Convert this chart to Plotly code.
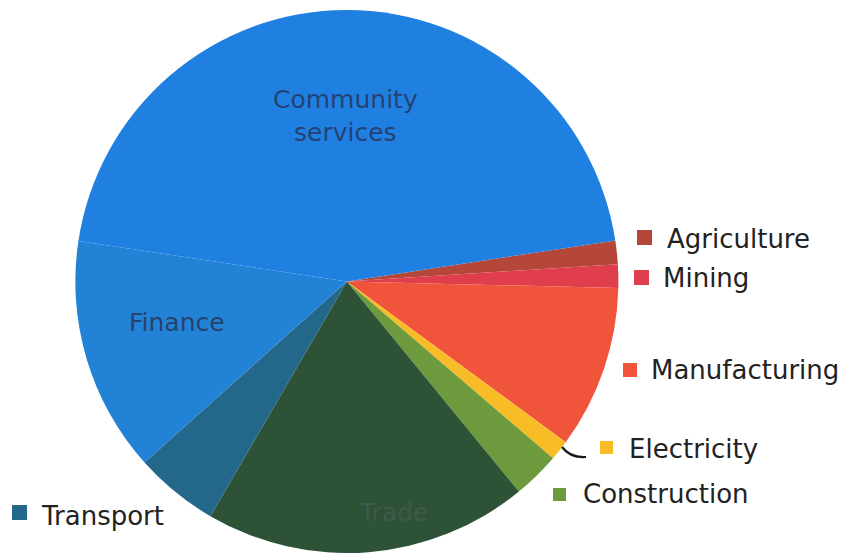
import plotly.graph_objects as go

W, H = 844, 553

# Sector shares (%), listed clockwise starting from Agriculture
sectors = ["Agriculture", "Mining", "Manufacturing", "Electricity", "Construction",
           "Trade", "Transport", "Finance", "Community services"]
shares = [1.4, 1.4, 9.7, 1.2, 2.8, 19.3, 5.0, 14.0, 45.2]
colors = ["#B4473A", "#E03E4C", "#F0553B", "#F8BC26", "#6C9A3C",
          "#2D5236", "#23688A", "#2282D6", "#1F80E2"]

# Sectors labelled inside the pie, and sectors labelled with a key outside it
inner_labels = {"Community services": "Community<br>services", "Finance": "Finance", "Trade": "Trade"}
inner_pos = {"Community services": (345, 116), "Finance": (177, 322), "Trade": (393, 512)}
inner_color = {"Community services": "rgba(38,58,100,0.9)", "Finance": "rgba(38,58,95,0.9)",
               "Trade": "rgba(66,90,75,0.95)"}

outer_keys = {  # square (x0, y0, x1, y1) and text left edge / centre line, in pixels
    "Agriculture": ((637, 230, 652, 245), (665, 239)),
    "Mining": ((634, 270, 649, 285), (661, 278)),
    "Manufacturing": ((623, 363, 637, 377), (649, 370)),
    "Electricity": ((600, 441, 613, 454), (627, 449)),
    "Construction": ((553, 488, 566, 501), (581, 494)),
    "Transport": ((12, 505, 27, 520), (39, 516)),
}


def px(x):
    return x / W


def py(y):
    return 1 - y / H


fig = go.Figure(go.Pie(
    labels=sectors,
    values=shares,
    sort=False,
    direction="clockwise",
    rotation=81.3,
    marker=dict(colors=colors, line=dict(width=0)),
    textinfo="none",
    hoverinfo="label+percent",
    showlegend=False,
    domain=dict(x=[0.087, 0.735], y=[0.0, 0.982]),
))

annotations = []
shapes = []
font_family = "DejaVu Sans, Verdana, sans-serif"

for name, txt in inner_labels.items():
    x, y = inner_pos[name]
    annotations.append(dict(
        x=px(x), y=py(y), xref="paper", yref="paper", text=txt, showarrow=False,
        xanchor="center", yanchor="middle",
        font=dict(family=font_family, size=25, color=inner_color[name]),
    ))

for name, (sq, (tx, ty)) in outer_keys.items():
    col = colors[sectors.index(name)]
    x0, y0, x1, y1 = sq
    shapes.append(dict(type="rect", xref="paper", yref="paper",
                       x0=px(x0), x1=px(x1), y0=py(y1), y1=py(y0),
                       fillcolor=col, line=dict(width=0)))
    annotations.append(dict(
        x=px(tx), y=py(ty), xref="paper", yref="paper", text=name, showarrow=False,
        xanchor="left", yanchor="middle",
        font=dict(family=font_family, size=26, color="#222222"),
    ))

# Small leader stroke tying the Electricity key to its thin slice
shapes.append(dict(
    type="path", xref="paper", yref="paper",
    path=f"M {px(562)},{py(447)} Q {px(570)},{py(458)} {px(586)},{py(457)}",
    line=dict(color="#1a1a1a", width=2.2),
))

fig.update_layout(
    width=W, height=H,
    margin=dict(l=0, r=0, t=0, b=0),
    paper_bgcolor="white",
    plot_bgcolor="white",
    annotations=annotations,
    shapes=shapes,
)

fig.write_html("out.html")
